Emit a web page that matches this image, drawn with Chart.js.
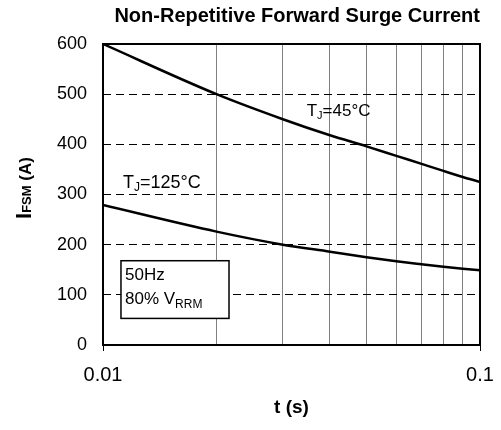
<!DOCTYPE html>
<html>
<head>
<meta charset="utf-8">
<script src="https://cdn.jsdelivr.net/npm/chart.js@4"></script>
<style>
	html, body { margin: 0; padding: 0; background: #fff; }
	#frame { width: 501px; height: 430px; }
</style>
</head>
<body>
<div id="frame"><canvas id="chart"></canvas></div>
<script>
const timeValues = [0.01, 0.02, 0.03, 0.04, 0.05, 0.06, 0.07, 0.08, 0.09, 0.1];
const current45 = [600, 500, 450, 418, 396, 377, 361, 347, 335, 325];
const current125 = [279, 226, 200, 186, 175, 167, 161, 156, 152, 149];
const yTicks = [0, 100, 200, 300, 400, 500, 600];
const xLabels = [0.01, 0.1];

const fontFamily = "'Liberation Sans', Arial, sans-serif";

function toPoints(values) {
	return timeValues.map((t, i) => ({ x: t, y: values[i] }));
}

function isLabelled(value) {
	return xLabels.some(v => Math.abs(v - value) < 1e-9);
}

// text runs with subscripts: [text, size, yShift]
function drawRuns(ctx, x, y, runs, weight) {
	let cursor = x;
	for (const [text, size, shift] of runs) {
		ctx.font = `${weight || ""} ${size}px ${fontFamily}`;
		ctx.fillText(text, cursor, y + shift);
		cursor += ctx.measureText(text).width;
	}
	return cursor - x;
}

const decorations = {
	id: "decorations",
	afterDraw(chart) {
		const ctx = chart.ctx;
		const area = chart.chartArea;
		const xs = chart.scales.x;
		const ys = chart.scales.y;
		ctx.save();
		ctx.fillStyle = "#000";
		ctx.textBaseline = "alphabetic";
		ctx.textAlign = "left";

		// frame
		ctx.strokeStyle = "#000";
		ctx.lineWidth = 2;
		ctx.strokeRect(area.left, area.top, area.right - area.left, area.bottom - area.top);

		// curve labels
		drawRuns(ctx, xs.getPixelForValue(0.0347), ys.getPixelForValue(456), [["T", 17, 0], ["J", 11, 3], ["=45°C", 17, 0]]);
		drawRuns(ctx, xs.getPixelForValue(0.0113), ys.getPixelForValue(313), [["T", 18, 0], ["J", 12, 3], ["=125°C", 18, 0]]);

		// conditions box
		const bx1 = xs.getPixelForValue(0.01116);
		const bx2 = xs.getPixelForValue(0.02159);
		const by1 = ys.getPixelForValue(168);
		const by2 = ys.getPixelForValue(53);
		ctx.fillStyle = "#fff";
		ctx.fillRect(bx1, by1, bx2 - bx1, by2 - by1);
		ctx.lineWidth = 1.5;
		ctx.strokeRect(bx1, by1, bx2 - bx1, by2 - by1);
		ctx.fillStyle = "#000";
		drawRuns(ctx, bx1 + 4, by1 + 19, [["50Hz", 17, 0]]);
		drawRuns(ctx, bx1 + 4, by1 + 43, [["80% V", 17, 0], ["RRM", 12, 4]]);

		// y axis title, rotated
		ctx.translate(31, 188);
		ctx.rotate(-Math.PI / 2);
		const parts = [["I", 22, 0], ["FSM", 13, 0], [" (A)", 17, 0]];
		let total = 0;
		for (const [text, size] of parts) {
			ctx.font = `bold ${size}px ${fontFamily}`;
			total += ctx.measureText(text).width;
		}
		drawRuns(ctx, -total / 2, 0, parts, "bold");
		ctx.restore();
	}
};

function drawChart() {
	const context = document.getElementById("chart").getContext("2d");
	Chart.defaults.color = "#000";
	Chart.defaults.font.family = fontFamily;
	const options = {
		type: "line",
		data: {
			datasets: [
				{
					label: "TJ=45°C",
					data: toPoints(current45),
					borderColor: "#000",
					borderWidth: 2.5,
					pointRadius: 0,
					cubicInterpolationMode: "monotone"
				},
				{
					label: "TJ=125°C",
					data: toPoints(current125),
					borderColor: "#000",
					borderWidth: 2.5,
					pointRadius: 0,
					cubicInterpolationMode: "monotone"
				}
			]
		},
		options: {
			responsive: true,
			maintainAspectRatio: false,
			animation: false,
			layout: {
				padding: { left: 0, right: 21, top: 0, bottom: 0 }
			},
			plugins: {
				legend: { display: false },
				tooltip: { enabled: false },
				title: {
					display: true,
					text: "Non-Repetitive Forward Surge Current",
					align: "end",
					font: { size: 20, weight: "bold" },
					color: "#000",
					padding: { top: 4, bottom: 16 }
				}
			},
			scales: {
				x: {
					type: "logarithmic",
					min: 0.01,
					max: 0.1,
					afterFit: scale => {
						scale.height = 85;
						scale.paddingLeft = 0;
						scale.paddingRight = 0;
					},
					afterBuildTicks: scale => { scale.ticks = timeValues.map(v => ({ value: v })); },
					border: { display: false },
					grid: {
						drawOnChartArea: true,
						color: c => isLabelled(c.tick.value) ? "rgba(0,0,0,0)" : "#808080",
						lineWidth: 1,
						tickColor: c => isLabelled(c.tick.value) ? "#000" : "rgba(0,0,0,0)",
						tickLength: 6,
						tickWidth: 1
					},
					ticks: {
						autoSkip: false,
						maxRotation: 0,
						padding: 12,
						font: { size: 20 },
						callback: value => isLabelled(value) ? String(value) : ""
					},
					title: {
						display: true,
						text: "t (s)",
						font: { size: 19, weight: "bold" },
						padding: { top: 0, bottom: 11 }
					}
				},
				y: {
					min: 0,
					max: 600,
					afterFit: scale => { scale.width = 103; },
					afterBuildTicks: scale => { scale.ticks = yTicks.map(v => ({ value: v })); },
					border: { display: false, dash: [8, 5] },
					grid: {
						color: c => (c.tick.value === 0 || c.tick.value === 600) ? "rgba(0,0,0,0)" : "#000",
						lineWidth: 1,
						drawTicks: false
					},
					ticks: {
						padding: 16,
						font: { size: 18 }
					}
				}
			}
		},
		plugins: [decorations]
	};
	new Chart(context, options);
}

document.addEventListener("DOMContentLoaded", _ => drawChart());
</script>
</body>
</html>
